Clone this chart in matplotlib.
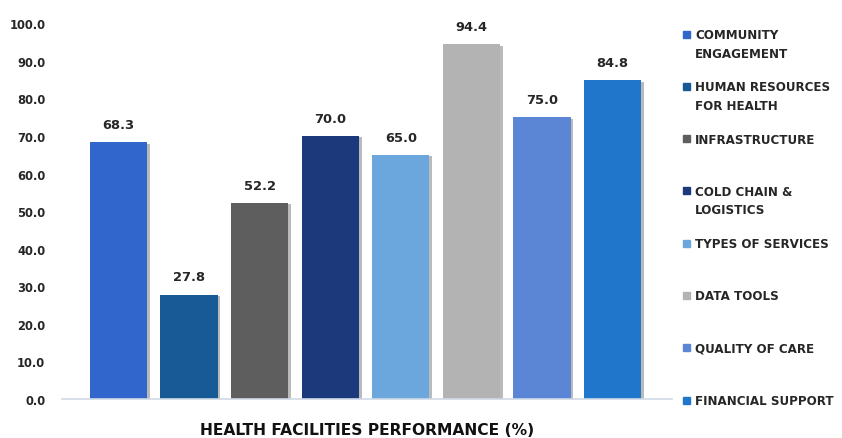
"""health facilities performance bar chart"""

import matplotlib
matplotlib.use("Agg")
import matplotlib.pyplot as plt
import matplotlib.patheffects as pe
from matplotlib.patches import Rectangle

categories = [
    "COMMUNITY\nENGAGEMENT",
    "HUMAN RESOURCES\nFOR HEALTH",
    "INFRASTRUCTURE",
    "COLD CHAIN &\nLOGISTICS",
    "TYPES OF SERVICES",
    "DATA TOOLS",
    "QUALITY OF CARE",
    "FINANCIAL SUPPORT",
]
scores = [68.3, 27.8, 52.2, 70.0, 65.0, 94.4, 75.0, 84.8]
colors = ["#3166CC", "#185A96", "#5E5E5E", "#1C3A7B",
          "#6BA7DD", "#B3B3B3", "#5B86D5", "#1F76CB"]
yticks = [0, 10, 20, 30, 40, 50, 60, 70, 80, 90, 100]

plt.rcParams["font.family"] = ["DejaVu Sans"]

fig = plt.figure(figsize=(8.42, 4.39), dpi=100)
ax = fig.add_axes([0.0736, 0.0888, 0.7244, 0.856])

x = list(range(len(scores)))
bars = ax.bar(x, scores, width=0.81, color=colors, zorder=2)
for b in bars:
    b.set_path_effects([pe.SimplePatchShadow(offset=(2, -1), alpha=0.45,
                                             shadow_rgbFace="#666666"),
                        pe.Normal()])

for xi, v in zip(x, scores):
    ax.annotate(f"{v:.1f}", (xi, v), xytext=(0, 8), textcoords="offset points",
                ha="center", va="bottom", fontsize=9.4, fontweight="bold",
                color="#262626")

ax.set_xlim(-0.8, 7.84)
ax.set_ylim(0, 100)
ax.set_yticks(yticks)
ax.set_yticklabels([f"{t:.1f}" for t in yticks], fontsize=8.3,
                   fontweight="bold", color="#262626")
ax.set_xticks([])
ax.tick_params(axis="y", length=0, pad=12)
for s in ["top", "right", "left"]:
    ax.spines[s].set_visible(False)
ax.spines["bottom"].set_color("#CFDAE6")
ax.spines["bottom"].set_linewidth(1.2)

fig.text(0.436, 0.003, "HEALTH FACILITIES PERFORMANCE (%)", ha="center",
         va="bottom", fontsize=11.2, fontweight="bold", color="#111111")

# legend drawn by hand so the swatch lines up with the first text line
for i, (lab, c) in enumerate(zip(categories, colors)):
    ytop = 1 - (31 + i * 52.3) / 439
    fig.add_artist(Rectangle((683 / 842, ytop - 7.5 / 439), 7 / 842, 7 / 439,
                             transform=fig.transFigure, color=c))
    fig.text(695 / 842, ytop + 2 / 439, lab, ha="left", va="top",
             fontsize=8.6, fontweight="bold", color="#262626", linespacing=1.55)

plt.savefig("out.png", dpi=100)
